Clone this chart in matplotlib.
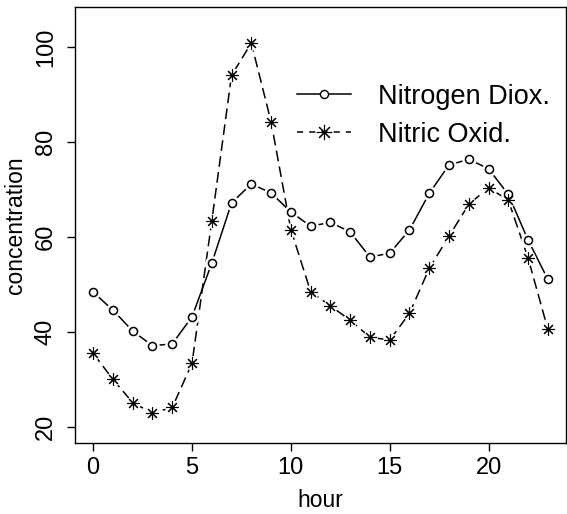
import numpy as np
import matplotlib
matplotlib.use("Agg")
import matplotlib.pyplot as plt
from matplotlib.lines import Line2D

## Data
hour = np.arange(24)
no2 = [48.4, 44.6, 40.2, 37.1, 37.5, 43.2, 54.5, 67.2, 71.2, 69.3, 65.3, 62.3,
       63.1, 61.1, 55.8, 56.6, 61.5, 69.2, 75.2, 76.4, 74.4, 69.0, 59.4, 51.1]
no = [35.5, 30.0, 25.1, 22.9, 24.1, 33.4, 63.4, 94.1, 100.9, 84.3, 61.6, 48.5,
      45.5, 42.5, 38.9, 38.3, 43.9, 53.4, 60.2, 66.9, 70.4, 67.8, 55.6, 40.6]
labels = ["Nitrogen Diox.", "Nitric Oxid."]

plt.rcParams['font.family'] = ['Liberation Sans', 'DejaVu Sans']

fig = plt.figure(figsize=(5.67, 5.14), dpi=100)
ax = fig.add_axes([75/567, 71/514, 491/567, 436/514])

dash = (7, 3.5)
# lines
ax.plot(hour, no2, '-', color='black', lw=1.1, zorder=1)
ax.plot(hour, no, '--', color='black', lw=1.1, dashes=dash, zorder=1)
# white masks to leave gaps round points (like R type="b")
ax.plot(hour, no2, 'o', ms=9.5, color='white', mec='white', zorder=2)
ax.plot(hour, no, 'o', ms=9.5, color='white', mec='white', zorder=2)
# markers
ax.plot(hour, no2, 'o', ms=5.8, mfc='none', mec='black', mew=1.1, zorder=3)
ax.plot(hour, no, ls='none', marker=(8, 2, 0), ms=9, mec='black', mew=0.8, zorder=3)

ax.set_xlim(-0.92, 23.92)
ax.set_ylim(16.6, 108.5)
ax.set_xticks([0, 5, 10, 15, 20])
ax.set_yticks([20, 40, 60, 80, 100])
ax.tick_params(labelsize=17, length=6, width=1, pad=4)
ax.tick_params(axis='y', pad=7)
plt.setp(ax.get_yticklabels(), rotation=90, va='center')
ax.set_xlabel("hour", fontsize=16.5, labelpad=7)
ax.set_ylabel("concentration", fontsize=16.5, labelpad=6)
for s in ax.spines.values():
    s.set_linewidth(1)

h1 = Line2D([], [], color='black', lw=1.1, marker='o', ms=5.8, mfc='white', mec='black')
h2 = Line2D([], [], color='black', lw=1.1, dashes=(4, 4), marker=(8, 2, 0), ms=11, mew=0.8)
ax.legend([h1, h2], labels, loc='upper left', bbox_to_anchor=(0.43, 0.849),
          frameon=False, fontsize=19.5, handlelength=2.0, handletextpad=1.0,
          labelspacing=0.45, borderaxespad=0)

plt.savefig('out.png', dpi=100)
